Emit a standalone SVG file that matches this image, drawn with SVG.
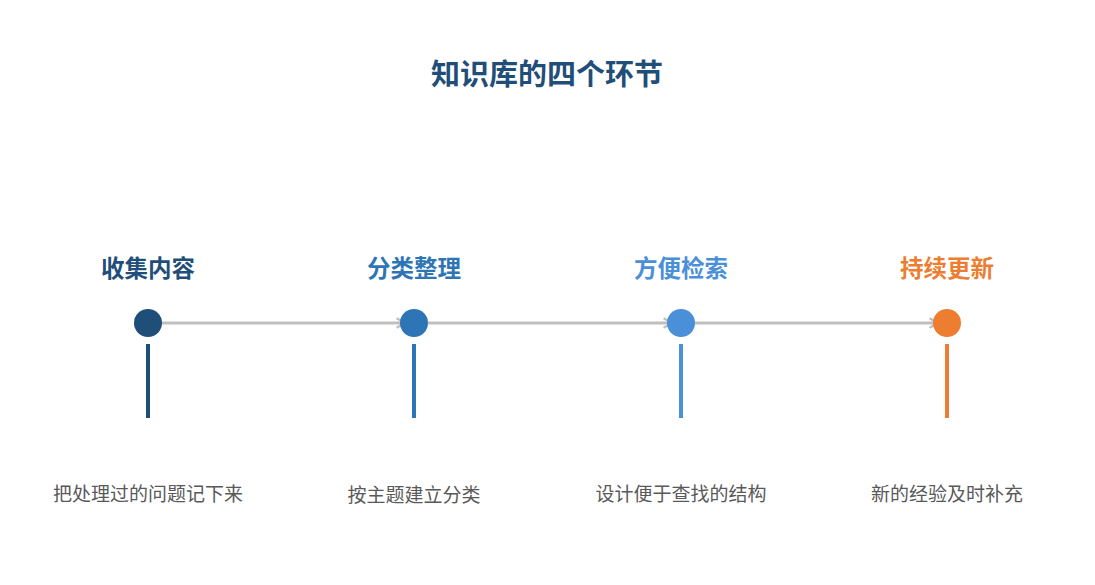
<svg xmlns="http://www.w3.org/2000/svg" width="1095" height="585" viewBox="0 0 1095 585">
<style>
.title{font-family:"Noto Sans CJK SC","Noto Sans",sans-serif;font-weight:bold;font-size:29px;fill:#1f4e79;text-anchor:middle}
.head{font-family:"Noto Sans CJK SC","Noto Sans",sans-serif;font-weight:bold;font-size:23.5px;text-anchor:middle}
.desc{font-family:"Noto Sans CJK SC","Noto Sans",sans-serif;font-size:19px;fill:#595959;text-anchor:middle}
.conn{stroke:#bfbfbf;stroke-width:3;fill:none;marker-end:url(#arr)}
</style>
<defs>
<marker id="arr" viewBox="0 0 10 10" refX="8" refY="5" markerWidth="4" markerHeight="4" orient="auto" markerUnits="strokeWidth">
<path d="M1,1 L8,5 L1,9" fill="none" stroke="#bfbfbf" stroke-width="2"/>
</marker>
</defs>
<rect width="1095" height="585" fill="#ffffff"/>
<text class="title" x="547" y="85">知识库的四个环节</text>
<g id="connectors">
<line class="conn" x1="162" y1="323" x2="405" y2="323"/>
<line class="conn" x1="428" y1="323" x2="672" y2="323"/>
<line class="conn" x1="695" y1="323" x2="938" y2="323"/>
</g>
<g id="n1">
<text class="head" x="148" y="277" fill="#1f4e79">收集内容</text>
<circle cx="148" cy="323" r="14" fill="#1f4e79"/>
<rect x="146" y="344" width="4" height="74" fill="#1f4e79"/>
<text class="desc" x="148" y="501">把处理过的问题记下来</text>
</g>
<g id="n2">
<text class="head" x="414" y="277" fill="#2e75b6">分类整理</text>
<circle cx="414" cy="323" r="14" fill="#2e75b6"/>
<rect x="412" y="344" width="4" height="74" fill="#2e75b6"/>
<text class="desc" x="414" y="502">按主题建立分类</text>
</g>
<g id="n3">
<text class="head" x="681" y="277" fill="#4a90d9">方便检索</text>
<circle cx="681" cy="323" r="14" fill="#4a90d9"/>
<rect x="679" y="344" width="4" height="74" fill="#4a90d9"/>
<text class="desc" x="681" y="501">设计便于查找的结构</text>
</g>
<g id="n4">
<text class="head" x="947" y="277" fill="#ed7d31">持续更新</text>
<circle cx="947" cy="323" r="14" fill="#ed7d31"/>
<rect x="945" y="344" width="4" height="74" fill="#ed7d31"/>
<text class="desc" x="947" y="501">新的经验及时补充</text>
</g>
</svg>
